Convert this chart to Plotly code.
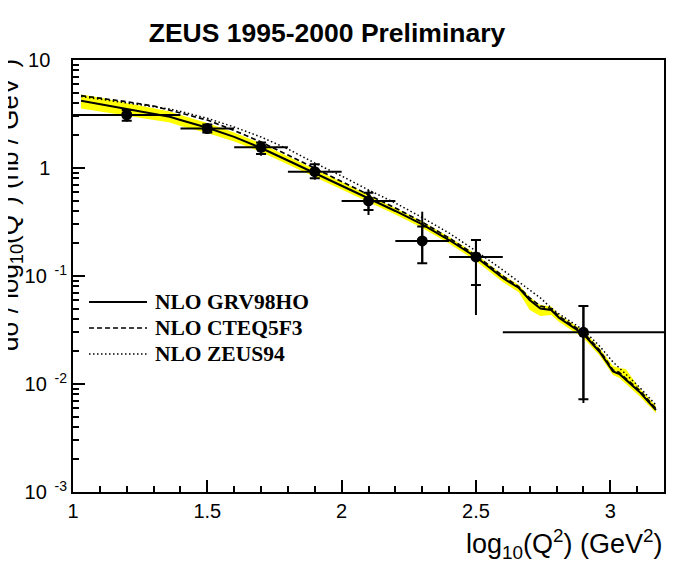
import plotly.graph_objects as go

# ---------------- data ----------------
# measured points: log10(Q^2) bins and cross section (nb / GeV^2)
x_pts = [1.2, 1.5, 1.7, 1.9, 2.1, 2.3, 2.5, 2.9]
x_lo = [1.0, 1.4, 1.6, 1.8, 2.0, 2.2, 2.4, 2.6]
x_hi = [1.4, 1.6, 1.8, 2.0, 2.2, 2.4, 2.6, 3.2]
y_pts = [3.10, 2.32, 1.555, 0.924, 0.495, 0.211, 0.150, 0.0301]
stat_hi = [3.45, 2.53, 1.72, 1.082, 0.590, 0.287, 0.2154, 0.0528]
stat_lo = [2.74, 2.13, 1.35, 0.803, 0.408, 0.131, 0.0825, 0.00722]
tot_hi = [3.52, 2.56, 1.74, 1.10, 0.626, 0.394, 0.2154, 0.0535]
tot_lo = [2.69, 2.10, 1.30, 0.78, 0.367, 0.129, 0.0435, 0.00667]

# theory curves
x_th = [1.03, 1.1, 1.2, 1.3, 1.36, 1.4, 1.5, 1.6, 1.7, 1.8, 1.9, 2.0, 2.1, 2.2,
        2.3, 2.4, 2.5, 2.6, 2.66, 2.7, 2.74, 2.78, 2.81, 2.9, 2.96, 3.01, 3.034,
        3.058, 3.108, 3.17]
grv98 = [4.20, 3.91, 3.52, 3.20, 2.985, 2.78, 2.36, 1.94, 1.532, 1.173, 0.899,
         0.689, 0.522, 0.400, 0.300, 0.2154, 0.1499, 0.0958, 0.0774, 0.0600,
         0.0500, 0.0484, 0.0408, 0.0290, 0.0199, 0.01305, 0.01238, 0.01089,
         0.00849, 0.00574]
cteq5 = [4.67, 4.45, 4.11, 3.75, 3.44, 3.26, 2.78, 2.225, 1.741, 1.319, 0.994,
         0.758, 0.574, 0.426, 0.316, 0.2248, 0.1548, 0.1000, 0.0791, 0.0626,
         0.0528, 0.0500, 0.0422, 0.0300, 0.0206, 0.01348, 0.01278, 0.01124,
         0.00880, 0.00593]
zeus94 = [4.59, 4.35, 4.04, 3.71, 3.52, 3.34, 2.885, 2.397, 1.936, 1.499, 1.112,
          0.843, 0.626, 0.474, 0.348, 0.250, 0.1704, 0.1137, 0.0871, 0.0742,
          0.0626, 0.0506, 0.0445, 0.0316, 0.0225, 0.0160, 0.01406, 0.01238,
          0.00938, 0.00639]
band_hi = [4.79, 4.50, 4.00, 3.59, 3.34, 3.095, 2.61, 2.132, 1.686, 1.278, 0.979,
           0.742, 0.562, 0.426, 0.3196, 0.2297, 0.1599, 0.1022, 0.0825, 0.0639,
           0.0539, 0.0522, 0.0435, 0.0313, 0.02154, 0.01468, 0.01406, 0.01377,
           0.00918, 0.00626]
band_lo = [3.56, 3.34, 3.03, 2.75, 2.64, 2.448, 2.109, 1.760, 1.407, 1.077, 0.825,
           0.632, 0.4843, 0.371, 0.2783, 0.2000, 0.1377, 0.0880, 0.0704, 0.0484,
           0.0426, 0.0435, 0.0375, 0.0267, 0.01836, 0.01212, 0.01136, 0.0100,
           0.00774, 0.00539]

legend_names = ["NLO GRV98HO", "NLO CTEQ5F3", "NLO ZEUS94"]
y_tickvals = [0.001, 0.01, 0.1, 1, 10]
y_ticktext = ["10<sup>\u00a0\u00a0-3</sup>", "10<sup>\u00a0\u00a0-2</sup>",
              "10<sup>\u00a0\u00a0-1</sup>", "1\u00a0\u00a0\u00a0",
              "10\u00a0\u00a0\u00a0"]
x_tickvals = [1, 1.5, 2, 2.5, 3]
x_ticktext = ["1", "1.5", "2", "2.5", "3"]

# ---------------- geometry (page pixels) ----------------
W, H = 679, 561
OFF = 8  # page body margin
PL, PR, PT, PB = 73, 664, 60, 492      # plot box in page pixels
L, T = PL - OFF, PT - OFF
R = W - (PR - OFF)
B = H - (PB - OFF)
pw, ph = PR - PL, PB - PT

def px_x(p):
    return (p - PL) / pw

def px_y(p):
    return (PB - p) / ph

# ---------------- figure ----------------
fig = go.Figure()

fig.add_trace(go.Scatter(x=x_th, y=band_hi, mode="lines", line=dict(width=0, color="#ffff00"),
                         showlegend=False, hoverinfo="skip"))
fig.add_trace(go.Scatter(x=x_th, y=band_lo, mode="lines", line=dict(width=0, color="#ffff00"),
                         fill="tonexty", fillcolor="#ffff00", showlegend=False, hoverinfo="skip"))

fig.add_trace(go.Scatter(x=x_th, y=zeus94, mode="lines",
                         line=dict(color="black", width=1.5, dash="1.5px,2.5px"),
                         name=legend_names[2], showlegend=False))
fig.add_trace(go.Scatter(x=x_th, y=cteq5, mode="lines",
                         line=dict(color="black", width=1.7, dash="5px,3px"),
                         name=legend_names[1], showlegend=False))
fig.add_trace(go.Scatter(x=x_th, y=grv98, mode="lines",
                         line=dict(color="black", width=2),
                         name=legend_names[0], showlegend=False))

# total errors (no caps) + bin widths
fig.add_trace(go.Scatter(
    x=x_pts, y=y_pts, mode="markers",
    marker=dict(size=1, color="rgba(0,0,0,0)"),
    error_x=dict(type="data", symmetric=False,
                 array=[h - c for h, c in zip(x_hi, x_pts)],
                 arrayminus=[c - l for c, l in zip(x_pts, x_lo)],
                 width=0, thickness=2, color="black"),
    error_y=dict(type="data", symmetric=False,
                 array=[h - c for h, c in zip(tot_hi, y_pts)],
                 arrayminus=[c - l for c, l in zip(y_pts, tot_lo)],
                 width=0, thickness=2, color="black"),
    showlegend=False, hoverinfo="skip"))

# statistical errors (caps) + points
fig.add_trace(go.Scatter(
    x=x_pts, y=y_pts, mode="markers",
    marker=dict(size=11, color="black"),
    error_y=dict(type="data", symmetric=False,
                 array=[h - c for h, c in zip(stat_hi, y_pts)],
                 arrayminus=[c - l for c, l in zip(y_pts, stat_lo)],
                 width=5, thickness=2, color="black"),
    showlegend=False))

# manual legend (line samples + labels)
leg_rows = [302, 328, 354]
leg_dash = ["solid", "5px,3px", "1.5px,2.5px"]
leg_width = [2, 1.7, 1.5]
for name, row, dsh, lw in zip(legend_names, leg_rows, leg_dash, leg_width):
    fig.add_shape(type="line", xref="paper", yref="paper",
                  x0=px_x(89), x1=px_x(147), y0=px_y(row), y1=px_y(row),
                  line=dict(color="black", width=lw, dash=dsh))
    fig.add_annotation(xref="paper", yref="paper", x=px_x(153), y=px_y(row),
                       xanchor="left", yanchor="middle", showarrow=False,
                       text="<b>" + name + "</b>",
                       font=dict(family="Liberation Serif", size=21.5, color="black"))

# axis titles
fig.add_annotation(xref="paper", yref="paper", x=px_x(665), y=px_y(544),
                   xanchor="right", yanchor="middle", showarrow=False,
                   text="log<sub>10</sub>(Q<sup>2</sup>) (GeV<sup>2</sup>)",
                   font=dict(family="Liberation Sans", size=27, color="black"))
fig.add_annotation(xref="paper", yref="paper", x=px_x(29), y=px_y(57),
                   xanchor="right", yanchor="top", showarrow=False, textangle=-90,
                   text="d\u03c3 / log<sub>10</sub>(Q<sup>2</sup>) (nb / GeV<sup>2</sup>)",
                   font=dict(family="Liberation Sans", size=26, color="black"))

fig.update_layout(
    width=W, height=H,
    margin=dict(l=L, r=R, t=T, b=B),
    paper_bgcolor="white", plot_bgcolor="white",
    font=dict(family="Liberation Sans", size=20, color="black"),
    title=dict(text="<b>ZEUS 1995-2000 Preliminary</b>", xref="container", yref="container",
               x=(327 - OFF) / W, y=1 - (33 - OFF) / H, xanchor="center", yanchor="middle",
               font=dict(family="Liberation Sans", size=26.5, color="black")),
    xaxis=dict(range=[1, 3.2], tickmode="array", tickvals=x_tickvals, ticktext=x_ticktext,
               ticks="inside", ticklen=12, tickwidth=1.5, tickcolor="black",
               showline=True, linewidth=2, linecolor="black", mirror=True,
               showgrid=False, zeroline=False,
               minor=dict(dtick=0.1, tick0=1, ticks="inside", ticklen=6, tickwidth=1.5,
                          tickcolor="black", showgrid=False),
               tickfont=dict(size=20)),
    yaxis=dict(type="log", range=[-3, 1], tickmode="array", tickvals=y_tickvals,
               ticktext=y_ticktext,
               ticks="inside", ticklen=12, tickwidth=1.5, tickcolor="black",
               showline=True, linewidth=2, linecolor="black", mirror=True,
               showgrid=False, zeroline=False,
               minor=dict(dtick="D1", ticks="inside", ticklen=6, tickwidth=1.5,
                          tickcolor="black", showgrid=False),
               tickfont=dict(size=20)),
)

fig.write_html("out.html")
